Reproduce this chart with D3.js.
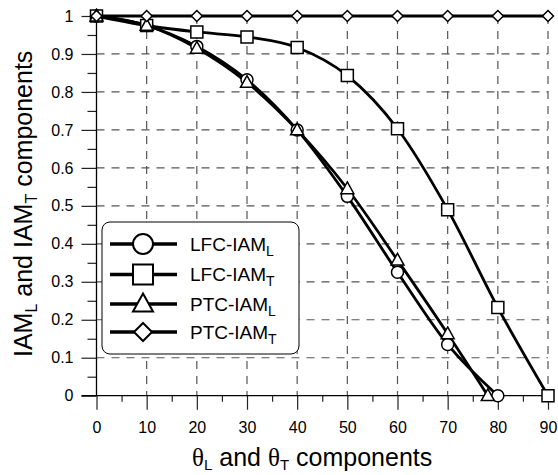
<!DOCTYPE html>
<html lang="en">
<head>
<meta charset="utf-8">
<title>IAM components</title>
<script src="https://d3js.org/d3.v7.min.js"></script>
<style>
  body { margin: 0; background: #fff; }
  svg text { font-family: "Liberation Sans", Arial, sans-serif; fill: #000; }
  .grid line { stroke: #555; stroke-width: 1.2; stroke-dasharray: 8,7; }
  .theta { font-family: "Liberation Serif", "DejaVu Serif", serif; }
</style>
</head>
<body>
<div id="chart"></div>
<script>
// angle values (deg) and IAM values
var lfcAngles = [0, 10, 20, 30, 40, 50, 60, 70, 80];
var lfcL      = [1, 0.975, 0.92, 0.832, 0.70, 0.525, 0.325, 0.135, 0];

var lfcTAngles = [0, 10, 20, 30, 40, 50, 60, 70, 80, 90];
var lfcT       = [1, 0.975, 0.958, 0.945, 0.917, 0.843, 0.703, 0.49, 0.232, 0];

var ptcLAngles = [0, 10, 20, 30, 40, 50, 60, 70, 78];
var ptcL       = [1, 0.975, 0.915, 0.825, 0.70, 0.545, 0.357, 0.163, 0];

var ptcTAngles = [0, 10, 20, 30, 40, 50, 60, 70, 80, 90];
var ptcT       = [1, 1, 1, 1, 1, 1, 1, 1, 1, 1];

var xTicks = [0, 10, 20, 30, 40, 50, 60, 70, 80, 90];
var yTicks = [0, 0.1, 0.2, 0.3, 0.4, 0.5, 0.6, 0.7, 0.8, 0.9, 1];
var yTickLabels = ["0", "0.1", "0.2", "0.3", "0.4", "0.5", "0.6", "0.7", "0.8", "0.9", "1"];

var seriesNames = ["LFC-IAM", "LFC-IAM", "PTC-IAM", "PTC-IAM"];
var seriesSubs  = ["L", "T", "L", "T"];
var seriesMarks = ["circle", "square", "triangle", "diamond"];

var width = 558, height = 475;

var x = d3.scaleLinear().domain([0, 90]).range([96.5, 548]);
var y = d3.scaleLinear().domain([0, 1]).range([395.7, 16]);

var svg = d3.select("#chart").append("svg")
  .attr("width", width)
  .attr("height", height);

// marker shapes, s = full width
function markerPath(type, s) {
  var h = s / 2;
  if (type == "circle") {
    return d3.symbol().type(d3.symbolCircle).size(Math.PI * h * h)();
  }
  if (type == "square") {
    return "M" + (-h) + "," + (-h) + "H" + h + "V" + h + "H" + (-h) + "Z";
  }
  if (type == "triangle") {
    return "M0," + (-h * 1.05) + "L" + h + "," + (h * 0.75) + "L" + (-h) + "," + (h * 0.75) + "Z";
  }
  return "M0," + (-h) + "L" + h + ",0L0," + h + "L" + (-h) + ",0Z";
}

// grid
var grid = svg.append("g").attr("class", "grid");
grid.selectAll(".vg").data(xTicks.slice(1)).enter().append("line")
  .attr("x1", function(d) { return x(d); })
  .attr("x2", function(d) { return x(d); })
  .attr("y1", y(1)).attr("y2", y(0));
grid.selectAll(".hg").data(yTicks.slice(1)).enter().append("line")
  .attr("x1", x(0)).attr("x2", x(90))
  .attr("y1", function(d) { return y(d); })
  .attr("y2", function(d) { return y(d); });

// y axis
var yAxis = d3.axisLeft(y).tickValues(yTicks).tickSize(15)
  .tickFormat(function(d, i) { return yTickLabels[i]; });
var yMinor = d3.axisLeft(y).tickValues(d3.range(0.05, 1, 0.1)).tickSize(9).tickFormat("");
var gy = svg.append("g").attr("transform", "translate(" + x(0) + ",0)").call(yAxis);
svg.append("g").attr("transform", "translate(" + x(0) + ",0)").call(yMinor)
  .select(".domain").remove();
gy.select(".domain").remove();
gy.selectAll("text").attr("x", -23).style("font-size", "16px");

// x axis
var xAxis = d3.axisBottom(x).tickValues(xTicks).tickSize(14);
var xMinor = d3.axisBottom(x).tickValues(d3.range(5, 90, 10)).tickSize(6).tickFormat("");
var gx = svg.append("g").attr("transform", "translate(0," + y(0) + ")").call(xAxis);
svg.append("g").attr("transform", "translate(0," + y(0) + ")").call(xMinor)
  .select(".domain").remove();
gx.select(".domain").remove();
gx.selectAll("text").attr("y", 26).style("font-size", "16px");
svg.selectAll(".tick line").attr("stroke", "#222").attr("stroke-width", 1.2);

svg.append("line").attr("x1", x(0)).attr("x2", x(0)).attr("y1", y(1)).attr("y2", y(0))
  .attr("stroke", "#000").attr("stroke-width", 1.3);
svg.append("line").attr("x1", x(0) - 15).attr("x2", x(90)).attr("y1", y(0)).attr("y2", y(0))
  .attr("stroke", "#000").attr("stroke-width", 1.3);

// series
var series = [
  { xs: lfcAngles, ys: lfcL, mark: "circle" },
  { xs: lfcTAngles, ys: lfcT, mark: "square" },
  { xs: ptcLAngles, ys: ptcL, mark: "triangle" },
  { xs: ptcTAngles, ys: ptcT, mark: "diamond" }
];
var markSize = { circle: 12, square: 12, triangle: 13, diamond: 11 };

var line = d3.line()
  .x(function(d) { return x(d[0]); })
  .y(function(d) { return y(d[1]); })
  .curve(d3.curveMonotoneX);

series.forEach(function(s) {
  var pts = d3.zip(s.xs, s.ys);
  svg.append("path").datum(pts)
    .attr("d", line)
    .attr("fill", "none")
    .attr("stroke", "#000")
    .attr("stroke-width", 2.8);
});
series.forEach(function(s) {
  var pts = d3.zip(s.xs, s.ys);
  svg.selectAll(null).data(pts).enter().append("path")
    .attr("d", markerPath(s.mark, markSize[s.mark]))
    .attr("transform", function(d) { return "translate(" + x(d[0]) + "," + y(d[1]) + ")"; })
    .attr("fill", "#fff")
    .attr("stroke", "#000")
    .attr("stroke-width", 1.5);
});

// legend
var lg = svg.append("g");
lg.append("rect")
  .attr("x", 102).attr("y", 222).attr("width", 197).attr("height", 132)
  .attr("rx", 8).attr("fill", "#fff").attr("stroke", "#000").attr("stroke-width", 1);
var legendRows = [244, 274.5, 304, 332];
seriesNames.forEach(function(name, i) {
  var ry = legendRows[i];
  lg.append("line").attr("x1", 110).attr("x2", 177).attr("y1", ry).attr("y2", ry)
    .attr("stroke", "#000").attr("stroke-width", 3.5);
  lg.append("path")
    .attr("d", markerPath(seriesMarks[i], seriesMarks[i] == "diamond" ? 18 : 20))
    .attr("transform", "translate(143," + ry + ")")
    .attr("fill", "#fff").attr("stroke", "#000").attr("stroke-width", 2);
  var t = lg.append("text").attr("x", 190).attr("y", ry + 6.5).style("font-size", "19px");
  t.append("tspan").text(name);
  t.append("tspan").attr("dy", 5).style("font-size", "14px").text(seriesSubs[i]);
});

// axis titles
var yt = svg.append("text")
  .attr("transform", "translate(32,357) rotate(-90)")
  .style("font-size", "25px");
yt.append("tspan").text("IAM");
yt.append("tspan").attr("dy", 5).style("font-size", "16px").text("L");
yt.append("tspan").attr("dy", -5).text(" and IAM");
yt.append("tspan").attr("dy", 5).style("font-size", "16px").text("T");
yt.append("tspan").attr("dy", -5).text(" components");

var xt = svg.append("text").attr("x", 192).attr("y", 466).style("font-size", "25px");
xt.append("tspan").attr("class", "theta").text("θ");
xt.append("tspan").attr("dy", 4).style("font-size", "15px").text("L");
xt.append("tspan").attr("dy", -4).text(" and ");
xt.append("tspan").attr("class", "theta").text("θ");
xt.append("tspan").attr("dy", 4).style("font-size", "15px").text("T");
xt.append("tspan").attr("dy", -4).text(" components");
</script>
</body>
</html>
